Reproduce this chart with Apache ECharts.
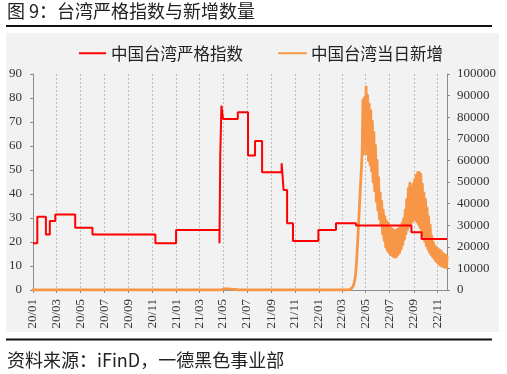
<!DOCTYPE html>
<html><head><meta charset="utf-8">
<script src="https://cdn.jsdelivr.net/npm/echarts@6/dist/echarts.min.js"></script>
<style>html,body{margin:0;padding:0;background:#fff}#c{width:507px;height:374px}</style>
</head><body><div id="c"></div>
<script>
const titleText = '图 9：台湾严格指数与新增数量';
const sourceText = '资料来源：iFinD，一德黑色事业部';
const seriesNames = ['中国台湾严格指数', '中国台湾当日新增'];
const xStart = '2020-01-01';
const xEnd = '2022-11-25';
const xTickLabels = ['20/01','20/03','20/05','20/07','20/09','20/11','21/01','21/03','21/05','21/07','21/09','21/11','22/01','22/03','22/05','22/07','22/09','22/11'];
const leftAxisRange = [0, 90, 10];
const rightAxisRange = [0, 100000, 10000];

// Oxford stringency index (change points, step line)
const stringency = [
['2020-01-01',19.44],['2020-01-12',30.56],['2020-02-03',23.15],['2020-02-13',28.70],['2020-02-27',31.48],
['2020-04-18',25.93],['2020-06-01',23.15],['2020-11-09',19.44],['2021-01-01',25.00],['2021-04-22',19.44],
['2021-04-24',56.02],['2021-04-27',76.85],['2021-05-01',71.30],['2021-06-08',74.07],['2021-07-04',56.02],
['2021-07-22',62.04],['2021-08-09',49.07],['2021-09-28',52.78],['2021-10-03',41.67],['2021-10-12',27.78],
['2021-10-27',20.37],['2021-12-31',25.00],['2022-02-14',27.78],['2022-04-06',26.85],['2022-08-26',24.07],
['2022-09-21',21.30],['2022-11-25',21.30]
];

// daily new cases
const dailyCases = [
['2020-01-01',0],['2021-04-24',0],['2021-04-29',350],['2021-05-08',600],['2021-05-20',450],['2021-06-01',250],['2021-06-10',0],
['2022-03-13',0],['2022-03-20',200],['2022-03-26',800],['2022-03-30',1800],['2022-04-02',3500],['2022-04-05',7000],['2022-04-08',14000],['2022-04-11',24000],['2022-04-14',35000],['2022-04-17',46000],['2022-04-20',56000],['2022-04-22',64000],
['2022-04-24',88000],['2022-04-26',63000],['2022-04-28',89000],['2022-04-30',66000],['2022-05-02',94000],['2022-05-04',63000],['2022-05-06',90000],['2022-05-08',60000],['2022-05-10',86000],['2022-05-12',58000],['2022-05-14',83000],['2022-05-16',55000],['2022-05-18',78000],['2022-05-20',50000],['2022-05-22',73000],['2022-05-24',46000],['2022-05-26',67000],['2022-05-28',41000],['2022-05-30',60000],
['2022-06-01',37000],['2022-06-03',52000],['2022-06-05',33000],['2022-06-07',45000],['2022-06-09',30000],['2022-06-11',41000],['2022-06-13',26000],['2022-06-15',37000],['2022-06-17',23000],['2022-06-19',34000],['2022-06-21',20000],['2022-06-23',32000],['2022-06-25',18500],['2022-06-27',31000],['2022-06-29',17500],
['2022-07-01',29500],['2022-07-03',16500],['2022-07-05',28500],['2022-07-07',16000],['2022-07-09',28000],['2022-07-11',15500],['2022-07-13',27500],['2022-07-15',15200],['2022-07-17',27500],['2022-07-19',15500],['2022-07-21',28000],['2022-07-23',16500],['2022-07-25',28500],['2022-07-27',17500],['2022-07-29',29500],['2022-07-31',19000],
['2022-08-02',31000],['2022-08-04',21000],['2022-08-06',33000],['2022-08-08',23500],['2022-08-10',37000],['2022-08-12',26000],['2022-08-14',42000],['2022-08-16',28000],['2022-08-18',47000],['2022-08-20',29500],['2022-08-22',49500],['2022-08-24',30500],['2022-08-26',47000],['2022-08-28',31500],['2022-08-30',49000],
['2022-09-01',32500],['2022-09-03',51000],['2022-09-05',32500],['2022-09-07',53000],['2022-09-09',31500],['2022-09-11',54500],['2022-09-13',30500],['2022-09-15',54500],['2022-09-17',29000],['2022-09-19',53500],['2022-09-21',27500],['2022-09-23',49000],['2022-09-25',25000],['2022-09-27',45000],['2022-09-29',22500],
['2022-10-01',42000],['2022-10-03',20500],['2022-10-05',38000],['2022-10-07',19000],['2022-10-09',34000],['2022-10-11',17500],['2022-10-13',30000],['2022-10-15',16500],['2022-10-17',25000],['2022-10-19',15500],['2022-10-21',22000],['2022-10-23',14500],['2022-10-25',20500],['2022-10-27',13500],['2022-10-29',19500],['2022-10-31',12800],
['2022-11-02',19000],['2022-11-04',12000],['2022-11-06',18500],['2022-11-08',11500],['2022-11-10',18000],['2022-11-12',11000],['2022-11-14',17000],['2022-11-16',10800],['2022-11-18',16500],['2022-11-20',10500],['2022-11-22',16000],['2022-11-24',10500],['2022-11-25',15500]
];

// daily categories for the x axis
const categories = [];
(function(){
  let t = Date.parse(xStart + 'T00:00:00Z');
  const end = Date.parse(xEnd + 'T00:00:00Z');
  while (t <= end) { categories.push(new Date(t).toISOString().slice(0,10)); t += 86400000; }
})();
const toLabel = v => v.slice(2,4) + '/' + v.slice(5,7);
const isTick = (i, v) => v.slice(8) === '01' && xTickLabels.indexOf(toLabel(v)) >= 0;

const chart = echarts.init(document.getElementById('c'), null, {renderer: 'canvas'});
const axisGray = '#8c8c8c';
const serif = 'Liberation Serif';
const cjk = 'Noto Sans CJK SC';
chart.setOption({
  animation: false,
  backgroundColor: '#ffffff',
  graphic: [
    {type: 'rect', z: -10, shape: {x: 6, y: 33, width: 493, height: 299}, style: {fill: '#f2f2f2'}, silent: true},
    {type: 'line', shape: {x1: 6, y1: 26, x2: 492, y2: 26}, style: {stroke: '#111', lineWidth: 2}},
    {type: 'line', shape: {x1: 6, y1: 339.5, x2: 492, y2: 339.5}, style: {stroke: '#111', lineWidth: 2}},
    {type: 'text', left: 7, top: 2, style: {text: titleText, font: '18px "Noto Sans CJK SC"', fill: '#222'}},
    {type: 'text', left: 7, top: 351, style: {text: sourceText, font: '18px "Noto Sans CJK SC"', fill: '#222'}}
  ],
  legend: {
    left: 73, top: 40,
    itemWidth: 27, itemHeight: 14, itemGap: 35,
    itemStyle: {opacity: 0, borderWidth: 0},
    textStyle: {fontFamily: cjk, fontSize: 16.5, color: '#222'},
    data: seriesNames
  },
  grid: {left: 33, right: 60, top: 74, bottom: 84, containLabel: false},
  xAxis: {
    type: 'category', data: categories, boundaryGap: false,
    axisLine: {lineStyle: {color: axisGray}},
    axisTick: {show: true, interval: isTick, length: 3, lineStyle: {color: axisGray}},
    axisLabel: {interval: isTick, rotate: 90, margin: 9, formatter: toLabel, fontFamily: serif, fontSize: 13, color: '#333'},
    splitLine: {show: true, interval: isTick, lineStyle: {color: '#bdbdbd', type: [2, 2], width: 1}}
  },
  yAxis: [
    {type: 'value', min: leftAxisRange[0], max: leftAxisRange[1], interval: leftAxisRange[2],
     axisLine: {show: true, lineStyle: {color: axisGray}},
     axisTick: {show: true, length: 3, lineStyle: {color: axisGray}},
     axisLabel: {margin: 11, fontFamily: serif, fontSize: 13, color: '#333'},
     splitLine: {show: false}},
    {type: 'value', min: rightAxisRange[0], max: rightAxisRange[1], interval: rightAxisRange[2], position: 'right',
     axisLine: {show: true, lineStyle: {color: axisGray}},
     axisTick: {show: true, length: 3, lineStyle: {color: axisGray}},
     axisLabel: {margin: 10, fontFamily: serif, fontSize: 13, color: '#333', formatter: v => String(v)},
     splitLine: {show: false}}
  ],
  series: [
    {name: seriesNames[1], type: 'line', yAxisIndex: 1, data: dailyCases, symbol: 'none',
     lineStyle: {color: '#f79646', width: 2.8, join: 'round', cap: 'round'}, itemStyle: {color: '#f79646'}, z: 2},
    {name: seriesNames[0], type: 'line', yAxisIndex: 0, data: stringency, step: 'end', symbol: 'none',
     lineStyle: {color: '#ff0000', width: 2}, itemStyle: {color: '#ff0000'}, z: 3}
  ]
});
</script></body></html>
